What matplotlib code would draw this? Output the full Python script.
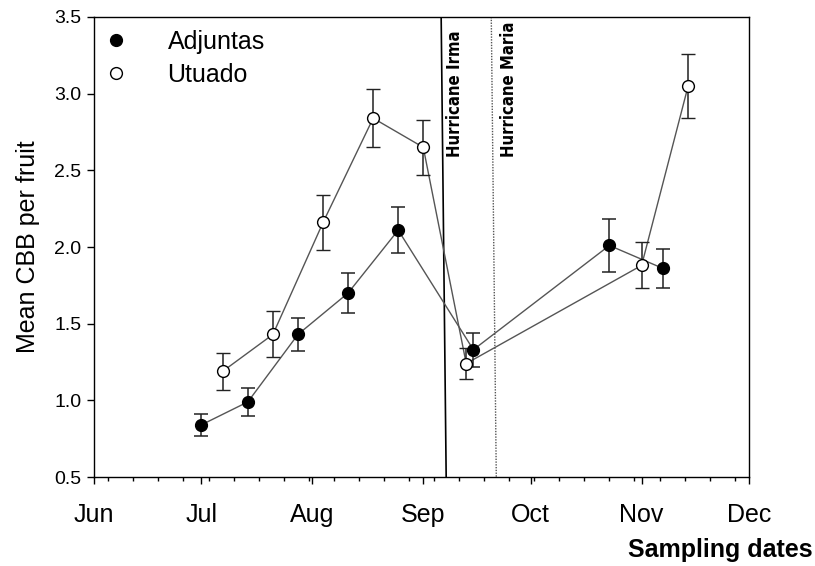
import matplotlib
matplotlib.use("Agg")
import matplotlib.pyplot as plt
import matplotlib.dates as mdates
from matplotlib.lines import Line2D
import pandas as pd

# sampling dates (2017) and mean CBB per fruit with standard errors
adj_dates = ["2017-07-01", "2017-07-14", "2017-07-28", "2017-08-11",
             "2017-08-25", "2017-09-15", "2017-10-23", "2017-11-07"]
adj_mean = [0.84, 0.99, 1.43, 1.70, 2.11, 1.33, 2.01, 1.86]
adj_se = [0.07, 0.09, 0.11, 0.13, 0.15, 0.11, 0.17, 0.13]

utu_dates = ["2017-07-07", "2017-07-21", "2017-08-04", "2017-08-18",
             "2017-09-01", "2017-09-13", "2017-11-01", "2017-11-14"]
utu_mean = [1.19, 1.43, 2.16, 2.84, 2.65, 1.24, 1.88, 3.05]
utu_se = [0.12, 0.15, 0.18, 0.19, 0.18, 0.10, 0.15, 0.21]

irma_date = "2017-09-06"
maria_date = "2017-09-20"

plt.rcParams['font.family'] = ['Liberation Sans', 'DejaVu Sans']

fig = plt.figure(figsize=(8.15, 5.66), dpi=100)
ax = fig.add_axes([0.1153, 0.1572, 0.8037, 0.8128])

adj_x = pd.to_datetime(adj_dates)
utu_x = pd.to_datetime(utu_dates)

ax.errorbar(adj_x, adj_mean, yerr=adj_se, fmt='o', color='#555555', lw=1,
            ms=8.5, mfc='black', mec='black', ecolor='#222222',
            elinewidth=1.1, capsize=5, capthick=1.1, zorder=3)
ax.plot(adj_x, adj_mean, color='#555555', lw=1, zorder=2)

ax.errorbar(utu_x, utu_mean, yerr=utu_se, fmt='o', ms=8.5, mfc='white',
            mec='black', mew=1, ecolor='#222222', elinewidth=1.1,
            capsize=5, capthick=1.1, zorder=3)
ax.plot(utu_x, utu_mean, color='#555555', lw=1, zorder=2)

# hurricane markers (lines drawn slightly slanted as in the original)
irma = pd.Timestamp(irma_date)
maria = pd.Timestamp(maria_date)
ax.plot([irma, irma + pd.Timedelta(days=1.4)], [3.5, 0.5], color='black', lw=1.2, zorder=1)
ax.plot([maria, maria + pd.Timedelta(days=1.4)], [3.5, 0.5], color='#555555',
        lw=1, ls=(0, (1, 1)), zorder=1)

ax.annotate("Hurricane Irma", xy=(irma, 2.59), xytext=(10, 0), textcoords='offset points',
            rotation=90, ha='center', va='bottom', fontsize=12, fontweight='bold',
            family='DejaVu Sans', fontstretch='condensed')
ax.annotate("Hurricane Maria", xy=(maria, 2.59), xytext=(13, 0), textcoords='offset points',
            rotation=90, ha='center', va='bottom', fontsize=12, fontweight='bold',
            family='DejaVu Sans', fontstretch='condensed')

ax.set_xlim(pd.Timestamp("2017-06-01"), pd.Timestamp("2017-12-01"))
ax.set_ylim(0.5, 3.5)
ax.set_yticks([0.5, 1.0, 1.5, 2.0, 2.5, 3.0, 3.5])
ax.yaxis.set_major_formatter(matplotlib.ticker.FormatStrFormatter('%.1f'))

ax.xaxis.set_major_locator(mdates.MonthLocator())
ax.xaxis.set_major_formatter(mdates.DateFormatter('%b'))
ax.xaxis.set_minor_locator(mdates.WeekdayLocator(byweekday=mdates.MO))

ax.tick_params(axis='y', labelsize=14, length=5, width=1, pad=4)
ax.tick_params(axis='x', which='major', labelsize=18, length=5, width=1, pad=14)
ax.tick_params(axis='x', which='minor', length=3, width=1)
for s in ax.spines.values():
    s.set_linewidth(1)

ax.set_ylabel("Mean CBB per fruit", fontsize=18, labelpad=10)
fig.text(0.997, 0.028, "Sampling dates", ha='right', va='center', fontsize=18,
         fontweight='bold')

handles = [Line2D([], [], ls='none', marker='o', ms=8.5, mfc='black', mec='black'),
           Line2D([], [], ls='none', marker='o', ms=8.5, mfc='white', mec='black')]
ax.legend(handles, ["Adjuntas", "Utuado"], loc='upper left', frameon=False,
          fontsize=18, handlelength=1.0, handletextpad=1.54, labelspacing=0.35,
          bbox_to_anchor=(0.0, 0.993), borderaxespad=0.0)

fig.savefig("out.png", dpi=100)
